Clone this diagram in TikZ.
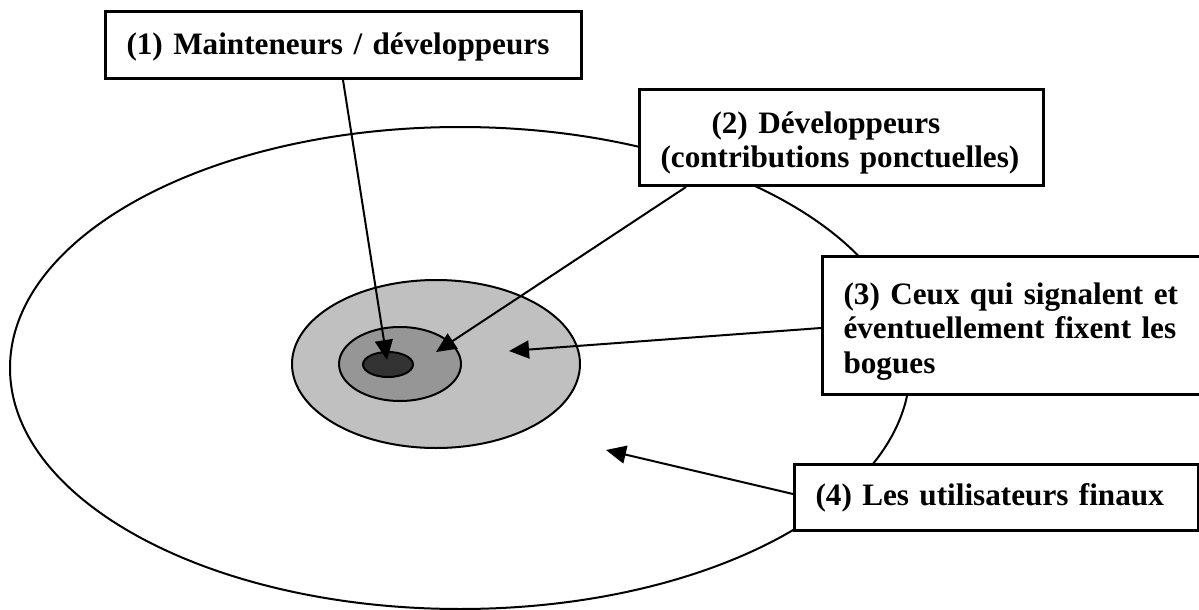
\documentclass[tikz,border=0pt]{standalone}
\usepackage{fontspec}
\setmainfont{Liberation Serif}
\usetikzlibrary{arrows.meta}
\definecolor{ringA}{RGB}{192,192,192}
\definecolor{ringB}{RGB}{150,150,150}
\definecolor{ringC}{RGB}{51,51,51}
\begin{document}
\begin{tikzpicture}[x=0.5pt,y=-0.5pt,
  box/.style={draw=black, line width=1.5pt, fill=white, anchor=north west,
    inner xsep=10.5pt, inner ysep=0pt, align=left,
    font=\fontsize{15.6pt}{17.2pt}\selectfont\bfseries},
  arr/.style={line width=1pt, -{Triangle[length=10pt,width=9pt]}},
  ring/.style={draw=black, line width=1pt}]
\useasboundingbox (0,0) rectangle (1199,610);
\clip (0,0) rectangle (1199,610);
\fill[white] (0,0) rectangle (1199,610);
% rings
\draw[ring, fill=white] (460,368) ellipse [x radius=225pt, y radius=120.5pt];
\draw[ring, fill=ringA] (436,364) ellipse [x radius=72pt, y radius=42pt];
\draw[ring, fill=ringB] (400,364) ellipse [x radius=30.5pt, y radius=18.5pt];
\draw[ring, fill=ringC] (388,364.5) ellipse [x radius=12.5pt, y radius=6.25pt];
% boxes
\node[box, minimum height=33.5pt, text width=217pt, text height=9.5pt, text depth=0pt]
  (b1) at (104,10) {(1) Mainteneurs / développeurs};
\node[box, minimum height=48pt, text width=181pt, text height=0pt, text depth=4pt]
  (b2) at (638,88) {\hspace*{25.5pt}(2) Développeurs\\\mbox{(contributions ponctuelles)}};
\node[box, minimum height=69pt, text width=176pt, text height=0pt, text depth=21pt]
  (b3) at (821,255) {\mbox{(3) Ceux qui signalent et}\\\mbox{éventuellement fixent les}\\bogues};
\node[box, minimum height=33pt, text width=181pt, text height=8pt, text depth=0pt]
  (b4) at (793,463) {(4) Les utilisateurs finaux};
% arrow tips
\coordinate (t1) at (387,360);
\coordinate (t2) at (436,352);
\coordinate (t3) at (509,351);
\coordinate (t4) at (606,450);
% connectors
\draw[arr] ([xshift=119.5pt]b1.south west) -- (t1);
\draw[arr] ([xshift=24pt]b2.south west) -- (t2);
\draw[arr] ([yshift=-36.5pt]b3.north west) -- (t3);
\draw[arr] ([yshift=-15.5pt]b4.north west) -- (t4);
\end{tikzpicture}
\end{document}
